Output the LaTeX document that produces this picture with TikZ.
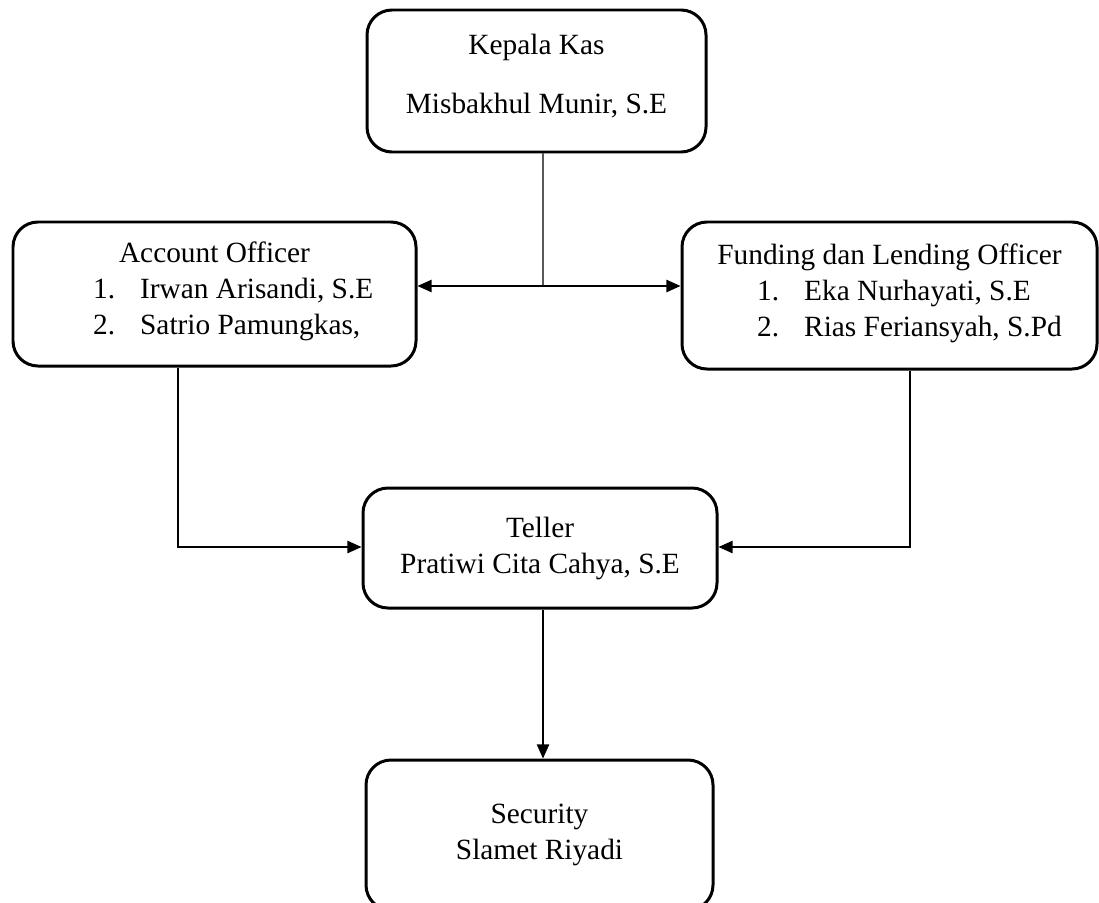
\documentclass[tikz,border=0pt]{standalone}
\usepackage{fontspec}
\setmainfont{Liberation Serif}
\usepackage{tikz}
\usetikzlibrary{arrows.meta,positioning,calc}

\begin{document}
\begin{tikzpicture}[
    box/.style={rectangle, draw, line width=1.7pt, rounded corners=0.5cm, align=center, inner sep=0pt, font=\fontsize{16.7}{20.5}\selectfont},
    line/.style={line width=0.6pt},
    arrow/.style={->, >={Triangle[length=8pt,width=7pt]}, line width=0.8pt}
]
\useasboundingbox (0,0) rectangle (21.98,-18.04);

\node[box, minimum width=6.78cm, minimum height=2.84cm] (kepala) at (10.73,-1.62) {\raisebox{2.8pt}[\height][\depth]{Kepala Kas}\\[13pt]\raisebox{2.8pt}[\height][\depth]{Misbakhul Munir, S.E}};
\node[box, minimum width=8.06cm, minimum height=2.88cm] (account) at (4.29,-5.88) {Account Officer\\
    \begin{tabular}[t]{@{\hspace{0.75cm}}l@{\hspace{0.5cm}}l@{}}1. & Irwan Arisandi, S.E\\ 2. & Satrio Pamungkas,\end{tabular}};
\node[box, minimum width=8.30cm, minimum height=2.94cm] (funding) at (17.79,-5.91) {Funding dan Lending Officer\\
    \begin{tabular}[t]{@{\hspace{0.8cm}}l@{\hspace{0.5cm}}l@{}}1. & Eka Nurhayati, S.E\\ 2. & Rias Feriansyah, S.Pd\end{tabular}};
\node[box, minimum width=7.08cm, minimum height=2.4cm] (teller) at (10.8,-10.96) {Teller\\Pratiwi Cita Cahya, S.E};
\node[box, minimum width=6.94cm, minimum height=3.0cm] (security) at (10.79,-16.7) {Security\\Slamet Riyadi};

\coordinate (j) at (10.86,-5.72);

\draw[line] ([xshift=0.13cm]kepala.south) -- (j);
\draw[arrow] (j) -- (j -| account.east);
\draw[arrow] (j) -- (j -| funding.west);
\draw[arrow] ([xshift=-0.73cm]account.south) |- ([yshift=0.02cm]teller.west);
\draw[arrow] ([xshift=0.41cm]funding.south) |- ([yshift=0.02cm]teller.east);
\draw[arrow] ([xshift=0.06cm]teller.south) -- ([xshift=0.06cm]teller.south |- security.north);

\end{tikzpicture}
\end{document}
